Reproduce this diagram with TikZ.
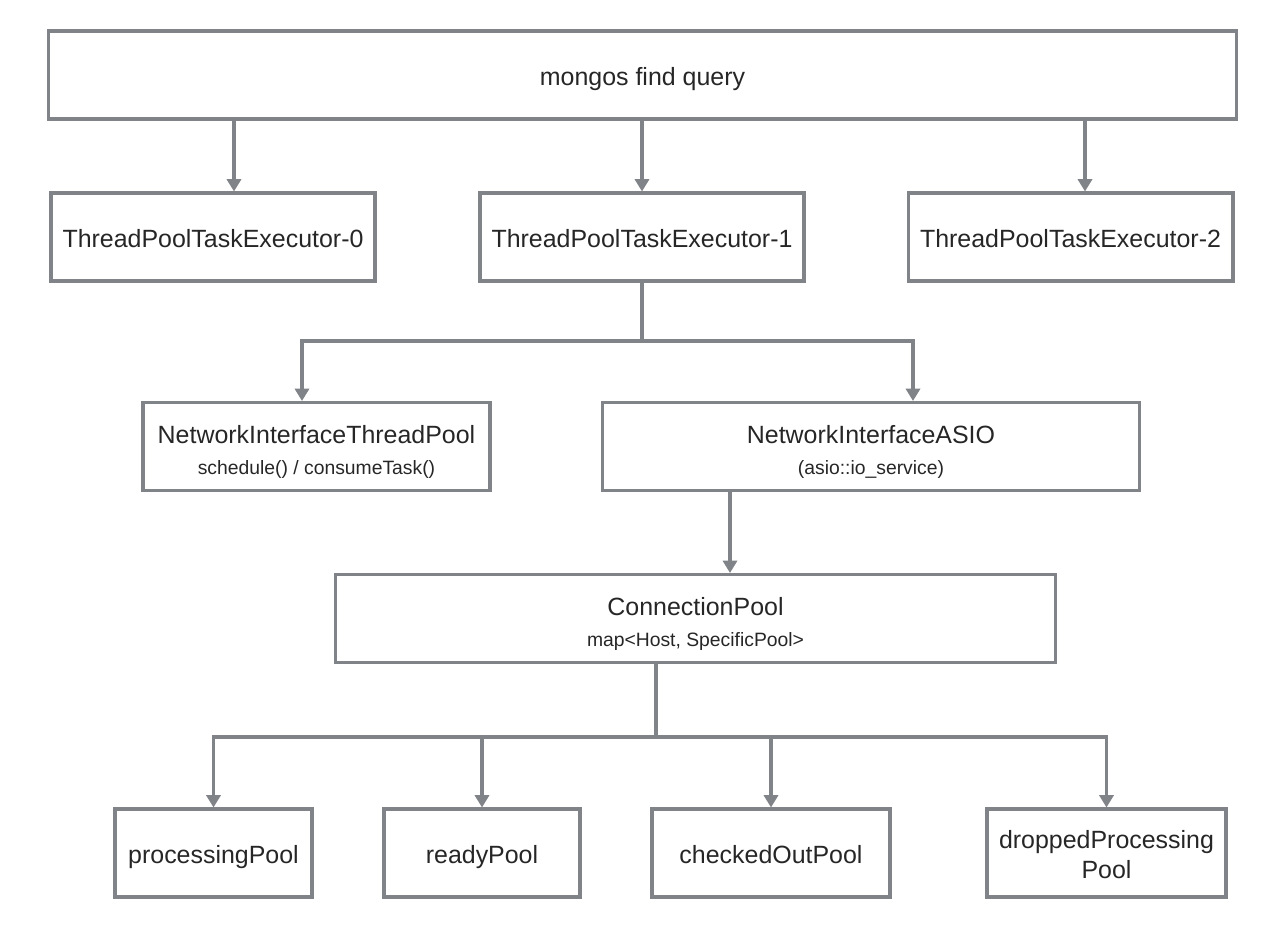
\documentclass[tikz,border=0pt]{standalone}
\usepackage{fontspec}
\setmainfont{Liberation Sans}
\usetikzlibrary{arrows.meta}
\definecolor{linegray}{RGB}{128,131,136}
\tikzset{
  box/.style={draw=linegray, line width=1.75pt, minimum height=1.76cm, align=center,
    text=black!85, font=\fontsize{14.2}{14.2}\selectfont, text height=12pt, text depth=0pt},
  twoline/.style={text height=34.8pt, text depth=2.5pt},
  link/.style={draw=linegray, line width=1.75pt},
  arr/.style={link, -{Triangle[length=7pt,width=8pt]}},
}
\newcommand{\subline}[1]{{\fontsize{11}{11}\selectfont #1}}

\begin{document}
\begin{tikzpicture}[x=0.02cm,y=-0.02cm]
\useasboundingbox (0,0) rectangle (1286,931);
% boxes
\node[box, minimum width=23.78cm] (query) at (642.5,75) {mongos find query};
\node[box, minimum width=6.48cm] (exec0) at (213,237) {ThreadPoolTaskExecutor-0};
\node[box, minimum width=6.48cm] (exec1) at (642,237) {ThreadPoolTaskExecutor-1};
\node[box, minimum width=6.5cm] (exec2) at (1070.5,237) {ThreadPoolTaskExecutor-2};
\node[box, twoline, minimum width=6.94cm] (nitp) at (316.5,446.5) {NetworkInterfaceThreadPool\\[3.4pt] \subline{schedule() / consumeTask()}};
\node[box, twoline, minimum width=10.76cm] (asio) at (871,446.5) {NetworkInterfaceASIO\\[3.4pt] \subline{(asio::io\_service)}};
\node[box, twoline, minimum width=14.42cm] (cpool) at (695.5,618.5) {ConnectionPool\\[3.4pt] \subline{map<Host, SpecificPool>}};
\node[box, minimum width=3.94cm] (pool0) at (213.5,853) {processingPool};
\node[box, minimum width=3.92cm] (pool1) at (482,853) {readyPool};
\node[box, minimum width=4.76cm] (pool2) at (771,853) {checkedOutPool};
\node[box, text height=29.5pt, minimum width=4.78cm] (pool3) at (1106.5,853) {droppedProcessing\\[3.3pt]Pool};
% tap points
\coordinate (c0) at (234,0);
\coordinate (c1) at (642,0);
\coordinate (c2) at (1085,0);
\coordinate (split1) at (642,341);
\coordinate (l1) at (302,341);
\coordinate (r1) at (913,341);
\coordinate (c3) at (730,0);
\coordinate (split2) at (656,737);
% connectors
\foreach \i in {0,1,2}
  \draw[arr] (query.south -| c\i) -- (c\i |- exec\i.north);
\draw[link] (exec1.south) -- (split1);
\draw[arr] (split1) -- (l1) -- (l1 |- nitp.north);
\draw[arr] (split1) -- (r1) -- (r1 |- asio.north);
\draw[arr] (asio.south -| c3) -- (c3 |- cpool.north);
\draw[link] (cpool.south -| split2) -- (split2);
\foreach \i in {0,1,2,3}
  \draw[arr] (split2) -| (pool\i.north);
\end{tikzpicture}
\end{document}
